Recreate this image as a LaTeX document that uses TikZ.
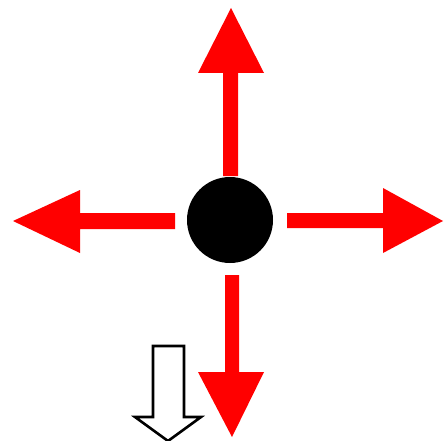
\documentclass[tikz,border=0pt]{standalone}
\begin{document}
\begin{tikzpicture}[x=1pt,y=-1pt,
  redarrow/.style={fill=red,draw=none},
  hollowarrow/.style={draw=black,line width=2.6pt,fill=white,line join=miter}]
\useasboundingbox (0,0) rectangle (444,441);
\node[circle,fill=black,minimum size=86pt,inner sep=0pt] (dot) at (230,220) {};
% up
\fill[redarrow] (223,176) -- (223,73) -- (198,73) -- (231,8) -- (264,73) -- (238,73) -- (238,176) -- cycle;
% left
\fill[redarrow] (175,213) -- (80,213) -- (80,190) -- (13,221) -- (80,253) -- (80,229) -- (175,229) -- cycle;
% right
\fill[redarrow] (287,213) -- (383,213) -- (383,188) -- (443,221) -- (383,253) -- (383,228) -- (287,228) -- cycle;
% down
\fill[redarrow] (225,275) -- (225,372) -- (198,372) -- (232,437) -- (264,372) -- (239,372) -- (239,275) -- cycle;
% hollow arrow
\draw[hollowarrow] (153,346) -- (184,346) -- (184,417) -- (201,417) -- (168,441) -- (135,417) -- (153,417) -- cycle;
\end{tikzpicture}
\end{document}
